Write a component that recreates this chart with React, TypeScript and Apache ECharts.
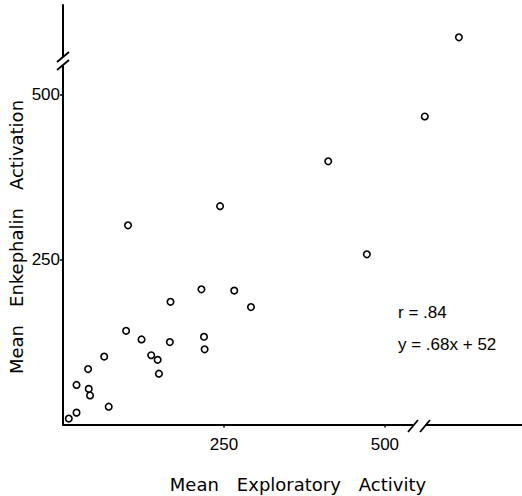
import React, { useEffect, useRef } from "react";
import * as echarts from "echarts";

// Mean Exploratory Activity (x) and Mean Enkephalin Activation (y)
const exploratory = [9, 21, 21, 39, 40, 42, 64, 71, 98, 101, 122, 137, 147, 149, 166, 167, 215, 219, 220, 244, 266, 292, 412, 472, 562, 615];
const enkephalin = [9, 18, 60, 84, 54, 44, 103, 27, 142, 302, 129, 105, 98, 77, 125, 186, 205, 133, 114, 331, 203, 178, 399, 258, 467, 587];

const xTickLabels = [250, 500];
const yTickLabels = [250, 500];

const xTitle = "Mean\u2003Exploratory\u2003Activity";
const yTitle = "Mean\u2003Enkephalin\u2003Activation";
const statLines = ["r = .84", "y = .68x + 52"];

export default function App() {
  const ref = useRef<HTMLDivElement>(null);
  useEffect(() => {
    document.body.style.margin = "0";
    if (!ref.current) return;
    const chart = echarts.init(ref.current, null, { renderer: "svg" });
    const data = exploratory.map((x, i) => [x, enkephalin[i]]);
    const axisCommon = {
      type: "value" as const,
      splitLine: { show: false },
      axisLine: { show: true, onZero: false, lineStyle: { color: "#000", width: 2 } },
      axisTick: { show: true, length: 3, lineStyle: { color: "#000", width: 1.5 } },
    };
    chart.setOption({
      animation: false,
      backgroundColor: "#fff",
      grid: { left: 63, right: 0, top: 5, bottom: 71.5, outerBoundsMode: "none", containLabel: false },
      xAxis: {
        ...axisCommon,
        min: 0,
        max: 713,
        axisTick: { ...axisCommon.axisTick, customValues: xTickLabels },
        axisLabel: {
          customValues: xTickLabels,
          color: "#000",
          fontFamily: "Liberation Sans",
          fontSize: 17,
          margin: 11,
        },
      },
      yAxis: {
        ...axisCommon,
        min: 0,
        max: 636,
        axisTick: { ...axisCommon.axisTick, customValues: yTickLabels },
        axisLabel: {
          customValues: yTickLabels,
          color: "#000",
          fontFamily: "Liberation Sans",
          fontSize: 17,
          margin: 3,
        },
      },
      series: [
        {
          type: "scatter",
          data,
          symbol: "circle",
          symbolSize: 6.5,
          itemStyle: { color: "#fff", borderColor: "#000", borderWidth: 1.6, opacity: 1 },
        },
      ],
      graphic: [
        // y-axis break
        { type: "rect", z: 100, shape: { x: 59, y: 57, width: 9, height: 8 }, style: { fill: "#fff" } },
        { type: "line", z: 101, shape: { x1: 57, y1: 62, x2: 69, y2: 52 }, style: { stroke: "#000", lineWidth: 1.8 } },
        { type: "line", z: 101, shape: { x1: 57, y1: 70, x2: 69, y2: 60 }, style: { stroke: "#000", lineWidth: 1.8 } },
        // x-axis break
        { type: "rect", z: 100, shape: { x: 413, y: 421, width: 12, height: 8 }, style: { fill: "#fff" } },
        { type: "line", z: 101, shape: { x1: 408, y1: 432, x2: 418, y2: 420 }, style: { stroke: "#000", lineWidth: 1.8 } },
        { type: "line", z: 101, shape: { x1: 420, y1: 432, x2: 430, y2: 420 }, style: { stroke: "#000", lineWidth: 1.8 } },
        // axis titles
        {
          type: "text",
          z: 101,
          x: 298,
          y: 484,
          style: { text: xTitle, fill: "#000", font: "18px 'DejaVu Sans'", align: "center", verticalAlign: "middle" },
        },
        {
          type: "text",
          z: 101,
          x: 16,
          y: 237,
          rotation: Math.PI / 2,
          style: { text: yTitle, fill: "#000", font: "18px 'DejaVu Sans'", align: "center", verticalAlign: "middle" },
        },
        // statistics
        {
          type: "text",
          z: 101,
          x: 398,
          y: 312,
          style: { text: statLines[0], fill: "#000", font: "17px 'Liberation Sans'", align: "left", verticalAlign: "middle" },
        },
        {
          type: "text",
          z: 101,
          x: 398,
          y: 344,
          style: { text: statLines[1], fill: "#000", font: "17px 'Liberation Sans'", align: "left", verticalAlign: "middle" },
        },
      ],
    });
    return () => chart.dispose();
  }, []);
  return <div ref={ref} style={{ width: 522, height: 496 }} />;
}
